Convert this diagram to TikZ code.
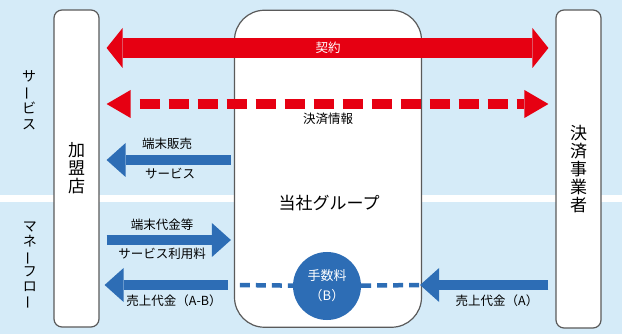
\documentclass[tikz,border=0pt]{standalone}
\usepackage{fontspec}
\setmainfont{Noto Sans CJK JP}
\usetikzlibrary{arrows.meta,calc}
\definecolor{bgblue}{HTML}{D5EBF8}
\definecolor{redA}{HTML}{E60012}
\definecolor{blueA}{HTML}{2D6DB5}
\definecolor{edgegray}{HTML}{5A5A5A}
\newcommand{\vbar}{\rotatebox[origin=c]{90}{ー}}
\tikzset{
  sidebox/.style={draw=edgegray, line width=1.2pt, fill=white, rounded corners=8pt,
    minimum width=45pt, align=center, inner sep=0pt, font=\fontsize{17}{18}\selectfont},
  centerbox/.style={draw=edgegray, line width=1.2pt, fill=white, rounded corners=30pt,
    minimum width=187pt, minimum height=317pt, inner sep=0pt},
  lab/.style={font=\fontsize{12.5}{14}\selectfont, inner sep=0pt},
  sidelab/.style={font=\fontsize{14}{15.5}\selectfont, align=center, inner sep=0pt},
  redfat/.style={draw=redA, line width=20pt,
    {Triangle[length=16pt,width=40pt,line width=0pt]}-{Triangle[length=16pt,width=40pt,line width=0pt]}},
  reddash/.style={draw=redA, line width=10pt, dash pattern=on 20pt off 9pt, dash phase=20pt,
    {Triangle[length=24pt,width=28pt,line width=0pt]}-{Triangle[length=24pt,width=28pt,line width=0pt]}},
  bluearr/.style={draw=blueA, line width=10pt, -{Triangle[length=19pt,width=34pt,line width=0pt]}},
  bluedash/.style={draw=blueA, line width=4.5pt, dash pattern=on 10pt off 6pt},
}
\begin{document}
\begin{tikzpicture}[x=1pt,y=-1pt]
\useasboundingbox (0,0) rectangle (622,334);
\fill[bgblue] (0,0) rectangle (622,334);
\fill[white] (0,195.5) rectangle (622,202.5);

% boxes
\node[sidebox, minimum height=317pt] (lbox) at (76.5,168.5) {加\\盟\\店};
\node[sidebox, minimum height=318pt] (rbox) at (578.5,169) {決\\済\\事\\業\\者};
\node[centerbox] (cbox) at (328,168.75) {};
\node[font=\fontsize{17}{18}\selectfont, inner sep=0pt] (title) at (329,203) {当社グループ};

% side labels
\node[sidelab] (svc) at (29,100) {サ\\\vbar\\ビ\\ス};
\node[sidelab, font=\fontsize{14}{14.8}\selectfont] (money) at (30,266) {マ\\ネ\\\vbar\\フ\\ロ\\\vbar};

% row coordinates
\coordinate (r1) at (0,48);
\coordinate (r2) at (0,104);
\coordinate (r3) at (0,160);
\coordinate (r4) at (0,240);
\coordinate (r5) at (0,285);

% fee circle
\node[circle, fill=blueA, minimum size=68pt, inner sep=0pt, text=white, align=center,
  font=\fontsize{13}{20}\selectfont] (fee) at (327,286) {手数料\\（B）};

% red arrows
\draw[redfat, shorten <=7pt, shorten >=7pt] (lbox.east |- r1) -- (rbox.west |- r1);
\draw[reddash, shorten <=7pt, shorten >=7pt] (lbox.east |- r2) -- (rbox.west |- r2);

% blue arrows
\draw[bluearr, shorten <=3pt, shorten >=7pt] (cbox.west |- r3) -- (lbox.east |- r3);
\draw[bluearr, shorten <=7pt, shorten >=3pt] (lbox.east |- r4) -- (cbox.west |- r4);
\draw[bluedash, shorten <=6pt] (cbox.west |- r5) -- (fee);
\draw[bluedash, shorten >=-2pt] (fee) -- (cbox.east |- r5);
\draw[bluearr, shorten <=6pt, shorten >=5pt] (cbox.west |- r5) -- (lbox.east |- r5);
\draw[bluearr, shorten <=7pt, shorten >=-2pt] (rbox.west |- r5) -- (cbox.east |- r5);

% labels
\node[lab, text=white] (keiyaku) at (328,48) {契約};
\node[lab] (kinfo) at (328,119) {決済情報};
\node[lab] (hanbai) at (167,144) {端末販売};
\node[lab] (svc1) at (170,174) {サービス};
\node[lab] (daikin) at (162,225) {端末代金等};
\node[lab] (riyou) at (162,254) {サービス利用料};
\node[lab] (uriab) at (174,301) {売上代金（A-B）};
\node[lab] (uria) at (497,301) {売上代金（A）};
\end{tikzpicture}
\end{document}
